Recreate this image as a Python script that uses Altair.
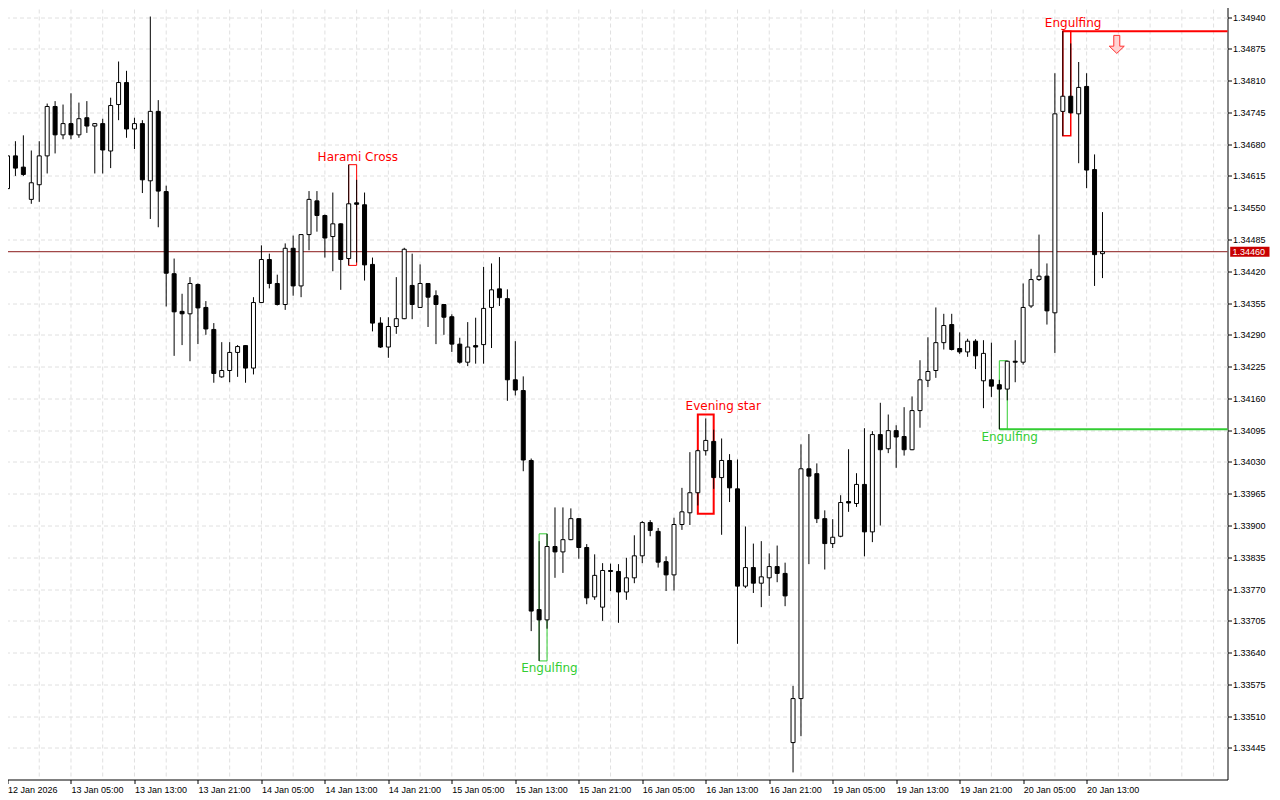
import json
import altair as alt
import pandas as pd

# ---------------- data (H1 candles) ----------------
O = [1.34589, 1.34656, 1.34633, 1.34567, 1.34597, 1.34656, 1.34757, 1.34699, 1.34722, 1.34699,
     1.34734, 1.34717, 1.34722, 1.34666, 1.34761, 1.34806, 1.34711, 1.34722, 1.34605, 1.34747,
     1.34583, 1.34415, 1.34338, 1.34333, 1.34393, 1.34346, 1.34301, 1.34204, 1.34217, 1.34254,
     1.34268, 1.34222, 1.34356, 1.34444, 1.34395, 1.34352, 1.34467, 1.34390, 1.34495, 1.34564,
     1.34534, 1.34491, 1.34517, 1.34446, 1.34560, 1.34556, 1.34434, 1.34314, 1.34265, 1.34307,
     1.34323, 1.34391, 1.34346, 1.34395, 1.34370, 1.34352, 1.34327, 1.34271, 1.34234, 1.34268,
     1.34270, 1.34346, 1.34384, 1.34364, 1.34198, 1.34176, 1.34033, 1.33728, 1.33707, 1.33857,
     1.33846, 1.33871, 1.33914, 1.33855, 1.33754, 1.33733, 1.33808, 1.33806, 1.33764, 1.33793,
     1.33838, 1.33906, 1.33888, 1.33826, 1.33799, 1.33902, 1.33926, 1.33967, 1.34053, 1.34072,
     1.33998, 1.34033, 1.33975, 1.33776, 1.33814, 1.33782, 1.33793, 1.33816, 1.33802, 1.33456,
     1.33546, 1.34016, 1.34006, 1.33914, 1.33863, 1.33878, 1.33949, 1.33945, 1.33984, 1.33887,
     1.34086, 1.34057, 1.34094, 1.34082, 1.34055, 1.34135, 1.34197, 1.34217, 1.34274, 1.34311,
     1.34262, 1.34255, 1.34277, 1.34196, 1.34198, 1.34188, 1.34179, 1.34236, 1.34234, 1.34349,
     1.34403, 1.34410, 1.34335, 1.34747, 1.34778, 1.34742, 1.34798, 1.34628, 1.34456]
H = [1.34663, 1.34686, 1.34698, 1.34667, 1.34686, 1.34763, 1.34768, 1.34761, 1.34784, 1.34765,
     1.34768, 1.34723, 1.34732, 1.34775, 1.34849, 1.34830, 1.34734, 1.34729, 1.34941, 1.34770,
     1.34595, 1.34446, 1.34374, 1.34408, 1.34395, 1.34359, 1.34314, 1.34275, 1.34275, 1.34269,
     1.34269, 1.34367, 1.34473, 1.34456, 1.34413, 1.34477, 1.34493, 1.34496, 1.34584, 1.34584,
     1.34536, 1.34581, 1.34518, 1.34638, 1.34607, 1.34581, 1.34448, 1.34326, 1.34326, 1.34408,
     1.34468, 1.34456, 1.34434, 1.34396, 1.34381, 1.34353, 1.34332, 1.34284, 1.34316, 1.34325,
     1.34429, 1.34436, 1.34449, 1.34383, 1.34277, 1.34205, 1.34037, 1.33868, 1.33883, 1.33937,
     1.33937, 1.33935, 1.33915, 1.33862, 1.33841, 1.33823, 1.33822, 1.33821, 1.33834, 1.33880,
     1.33909, 1.33911, 1.33895, 1.33837, 1.33916, 1.33977, 1.34050, 1.34055, 1.34119, 1.34096,
     1.34078, 1.34046, 1.34035, 1.33898, 1.33863, 1.33868, 1.33843, 1.33859, 1.33824, 1.33572,
     1.34066, 1.34087, 1.34027, 1.33931, 1.33913, 1.33962, 1.34056, 1.34007, 1.34099, 1.34093,
     1.34151, 1.34127, 1.34105, 1.34142, 1.34164, 1.34238, 1.34285, 1.34346, 1.34333, 1.34333,
     1.34295, 1.34282, 1.34281, 1.34279, 1.34274, 1.34198, 1.34237, 1.34279, 1.34395, 1.34425,
     1.34495, 1.34436, 1.34825, 1.34911, 1.34886, 1.34848, 1.34825, 1.34659, 1.34541]
L = [1.34565, 1.34615, 1.34615, 1.34558, 1.34562, 1.34620, 1.34661, 1.34690, 1.34690, 1.34693,
     1.34703, 1.34620, 1.34620, 1.34631, 1.34729, 1.34693, 1.34670, 1.34580, 1.34527, 1.34510,
     1.34348, 1.34247, 1.34269, 1.34236, 1.34271, 1.34290, 1.34192, 1.34202, 1.34193, 1.34204,
     1.34192, 1.34209, 1.34355, 1.34385, 1.34350, 1.34341, 1.34370, 1.34367, 1.34463, 1.34501,
     1.34448, 1.34420, 1.34382, 1.34432, 1.34438, 1.34401, 1.34297, 1.34263, 1.34243, 1.34292,
     1.34322, 1.34322, 1.34345, 1.34306, 1.34271, 1.34290, 1.34255, 1.34231, 1.34226, 1.34231,
     1.34231, 1.34263, 1.34349, 1.34155, 1.34166, 1.34011, 1.33684, 1.33623, 1.33689, 1.33793,
     1.33803, 1.33870, 1.33832, 1.33739, 1.33748, 1.33705, 1.33766, 1.33701, 1.33748, 1.33782,
     1.33823, 1.33878, 1.33814, 1.33766, 1.33767, 1.33891, 1.33901, 1.33941, 1.34043, 1.33975,
     1.33881, 1.33948, 1.33658, 1.33772, 1.33762, 1.33733, 1.33756, 1.33784, 1.33735, 1.33395,
     1.33469, 1.33821, 1.33905, 1.33810, 1.33854, 1.33876, 1.33928, 1.33938, 1.33837, 1.33866,
     1.33900, 1.34048, 1.34018, 1.34043, 1.34054, 1.34100, 1.34183, 1.34202, 1.34260, 1.34258,
     1.34251, 1.34245, 1.34220, 1.34140, 1.34163, 1.34097, 1.34156, 1.34193, 1.34229, 1.34345,
     1.34400, 1.34311, 1.34253, 1.34697, 1.34743, 1.34641, 1.34590, 1.34390, 1.34406]
C = [1.34656, 1.34631, 1.34618, 1.34601, 1.34656, 1.34757, 1.34699, 1.34722, 1.34699, 1.34732,
     1.34717, 1.34722, 1.34668, 1.34759, 1.34806, 1.34711, 1.34722, 1.34607, 1.34747, 1.34584,
     1.34416, 1.34337, 1.34333, 1.34395, 1.34345, 1.34302, 1.34211, 1.34217, 1.34254, 1.34266,
     1.34222, 1.34356, 1.34444, 1.34395, 1.34352, 1.34467, 1.34390, 1.34495, 1.34567, 1.34534,
     1.34488, 1.34517, 1.34444, 1.34558, 1.34557, 1.34433, 1.34314, 1.34265, 1.34307, 1.34323,
     1.34465, 1.34352, 1.34395, 1.34367, 1.34352, 1.34326, 1.34271, 1.34234, 1.34265, 1.34265,
     1.34344, 1.34382, 1.34366, 1.34198, 1.34177, 1.34034, 1.33725, 1.33707, 1.33857, 1.33846,
     1.33871, 1.33914, 1.33855, 1.33752, 1.33798, 1.33808, 1.33806, 1.33764, 1.33793, 1.33838,
     1.33906, 1.33890, 1.33825, 1.33799, 1.33902, 1.33928, 1.33967, 1.34053, 1.34074, 1.33998,
     1.34033, 1.33977, 1.33776, 1.33814, 1.33782, 1.33795, 1.33816, 1.33802, 1.33756, 1.33546,
     1.34016, 1.34001, 1.33914, 1.33863, 1.33876, 1.33947, 1.33946, 1.33984, 1.33887, 1.34086,
     1.34055, 1.34094, 1.34081, 1.34055, 1.34135, 1.34198, 1.34215, 1.34274, 1.34309, 1.34260,
     1.34255, 1.34277, 1.34247, 1.34252, 1.34185, 1.34179, 1.34236, 1.34234, 1.34346, 1.34403,
     1.34410, 1.34339, 1.34742, 1.34778, 1.34744, 1.34796, 1.34627, 1.34454, 1.34460]

time_tick_index = [0, 8, 16, 24, 32, 40, 48, 56, 64, 72, 80, 88, 96, 104, 112, 120, 128, 136]
time_tick_labels = ["12 Jan 2026", "13 Jan 05:00", "13 Jan 13:00", "13 Jan 21:00", "14 Jan 05:00",
                    "14 Jan 13:00", "14 Jan 21:00", "15 Jan 05:00", "15 Jan 13:00", "15 Jan 21:00",
                    "16 Jan 05:00", "16 Jan 13:00", "16 Jan 21:00", "19 Jan 05:00", "19 Jan 13:00",
                    "19 Jan 21:00", "20 Jan 05:00", "20 Jan 13:00"]
price_ticks = [1.33445, 1.33510, 1.33575, 1.33640, 1.33705, 1.33770, 1.33835, 1.33900,
               1.33965, 1.34030, 1.34095, 1.34160, 1.34225, 1.34290, 1.34355, 1.34420,
               1.34485, 1.34550, 1.34615, 1.34680, 1.34745, 1.34810, 1.34875, 1.34940]
vgrid_index = list(range(0, 153, 4))

# candlestick patterns: first/last candle, top/bottom of box
pat_k1 = [43, 87, 67, 125, 133]
pat_k2 = [44, 89, 68, 126, 134]
pat_top = [1.34638, 1.34127, 1.33883, 1.34237, 1.34911]
pat_bot = [1.34432, 1.33924, 1.33623, 1.34097, 1.34697]
pat_col = ["#ff0000", "#ff0000", "#32cd32", "#32cd32", "#ff0000"]
pat_sw = [1, 2, 1, 1, 1.5]

lab_text = ["Harami Cross", "Evening star", "Engulfing", "Engulfing", "Engulfing"]
lab_k = [44.15, 90.2, 68.3, 126.3, 134.3]
lab_price = [1.34654, 1.34144, 1.33609, 1.34080, 1.34928]
lab_col = ["#ff0000", "#ff0000", "#32cd32", "#32cd32", "#ff0000"]

level_k = [133, 125]
level_price = [1.34911, 1.34097]
level_col = ["#ff0000", "#32cd32"]

arrow_k = [139.8]
arrow_price = [1.34884]

bid_price = [1.34460]

# ---------------- chart ----------------
W, HT = 1225, 777
XMAX = 153.125
YMIN, YMAX = 1.333805, 1.349697

xs = alt.Scale(domain=[0, XMAX], nice=False, zero=False)
ys = alt.Scale(domain=[YMIN, YMAX], nice=False, zero=False)

label_expr = json.dumps(time_tick_labels) + "[round(datum.value / 8)]"
xaxis = alt.Axis(orient="bottom", values=time_tick_index, labelExpr=label_expr, grid=False,
                 domain=False, ticks=True, tickSize=4, tickColor="black", labelAlign="left",
                 labelBaseline="alphabetic", labelPadding=9, labelFont="Liberation Sans",
                 labelFontSize=9, labelColor="black", labelFlush=False, labelOverlap=False,
                 labelBound=False, labelAngle=0, title=None)
yaxis = alt.Axis(orient="right", values=price_ticks, format=".5f", grid=True, gridColor="#e0e0e0",
                 gridDash=[4, 3], gridWidth=1, domain=False, ticks=True, tickSize=4,
                 tickColor="black", labelFont="Liberation Sans", labelFontSize=9,
                 labelColor="black", labelPadding=1, labelFlush=False, labelOverlap=False,
                 labelBaseline="middle", title=None)


def X(f):
    return alt.X(f, type="quantitative", scale=xs, axis=xaxis, title=None)


def Y(f):
    return alt.Y(f, type="quantitative", scale=ys, axis=yaxis, title=None)


candles = pd.DataFrame({"k": list(range(len(O))), "o": O, "h": H, "l": L, "c": C})
candles["fillc"] = ["white" if c >= o else "black" for o, c in zip(O, C)]

pats = pd.DataFrame({"k1": pat_k1, "k2": pat_k2, "top": pat_top, "bot": pat_bot,
                     "col": pat_col, "sw": pat_sw})
labs = pd.DataFrame({"t": lab_text, "k": lab_k, "p": lab_price, "col": lab_col})
levels = pd.DataFrame({"k": level_k, "p": level_price, "col": level_col})
arrow = pd.DataFrame({"k": arrow_k, "p": arrow_price})
bid = pd.DataFrame({"p": bid_price, "t": ["%.5f" % v for v in bid_price]})
vgrid = pd.DataFrame({"g": vgrid_index})

grid_layer = alt.Chart(vgrid).mark_rule(color="#e0e0e0", strokeDash=[4, 3], strokeWidth=1).encode(
    x=X("g"), y=alt.value(0), y2=alt.value(HT))

box_layer = alt.Chart(pats).mark_rect(fillOpacity=0).encode(
    x=X("k1"), x2="k2", y=Y("top"), y2="bot",
    stroke=alt.Stroke("col:N", scale=None),
    strokeWidth=alt.StrokeWidth("sw:Q", scale=None))

level_layer = alt.Chart(levels).mark_rule(strokeWidth=2).encode(
    x=X("k"), x2=alt.value(W), y=Y("p"), color=alt.Color("col:N", scale=None))

bid_line = alt.Chart(bid).mark_rule(color="#8a1a1a", strokeWidth=1).encode(
    x=alt.value(0), x2=alt.value(W), y=Y("p"))

wicks = alt.Chart(candles).mark_rule(color="black", strokeWidth=1).encode(
    x=X("k"), y=Y("l"), y2="h")

bodies = alt.Chart(candles).mark_bar(size=4, stroke="black", strokeWidth=1).encode(
    x=X("k"), y=Y("o"), y2="c", fill=alt.Fill("fillc:N", scale=None))

texts = alt.Chart(labs).mark_text(font="DejaVu Sans", fontSize=12, align="center",
                                  baseline="middle").encode(
    x=X("k"), y=Y("p"), text="t:N", color=alt.Color("col:N", scale=None))

arrow_path = "M -0.4 -1.2 L 0.4 -1.2 L 0.4 0.24 L 1 0.24 L 0 1.2 L -1 0.24 L -0.4 0.24 Z"
arrow_layer = alt.Chart(arrow).mark_point(shape=arrow_path, size=225, filled=True,
                                          fill="#ffd2d2", stroke="#ff3030", strokeWidth=1,
                                          opacity=1).encode(x=X("k"), y=Y("p"))

tag_bg = alt.Chart(bid).mark_rect(color="#c80000", yOffset=-5, y2Offset=5).encode(
    x=alt.value(W + 2.7), x2=alt.value(W + 42), y=Y("p"), y2="p")
tag_text = alt.Chart(bid).mark_text(color="white", font="Liberation Sans", fontSize=9,
                                    align="left", baseline="middle").encode(
    x=alt.value(W + 5), y=Y("p"), text="t:N")

chart = alt.layer(grid_layer, box_layer, level_layer, bid_line, wicks, bodies, texts,
                  arrow_layer, tag_bg, tag_text).properties(
    width=W, height=HT,
    padding={"left": -5.5, "top": -5.5, "right": 44, "bottom": 18},
    autosize=alt.AutoSizeParams(type="none"),
    background="white",
).configure_view(stroke="black", strokeWidth=1)

chart.save("out.html", embed_options={"renderer": "svg", "actions": False})
